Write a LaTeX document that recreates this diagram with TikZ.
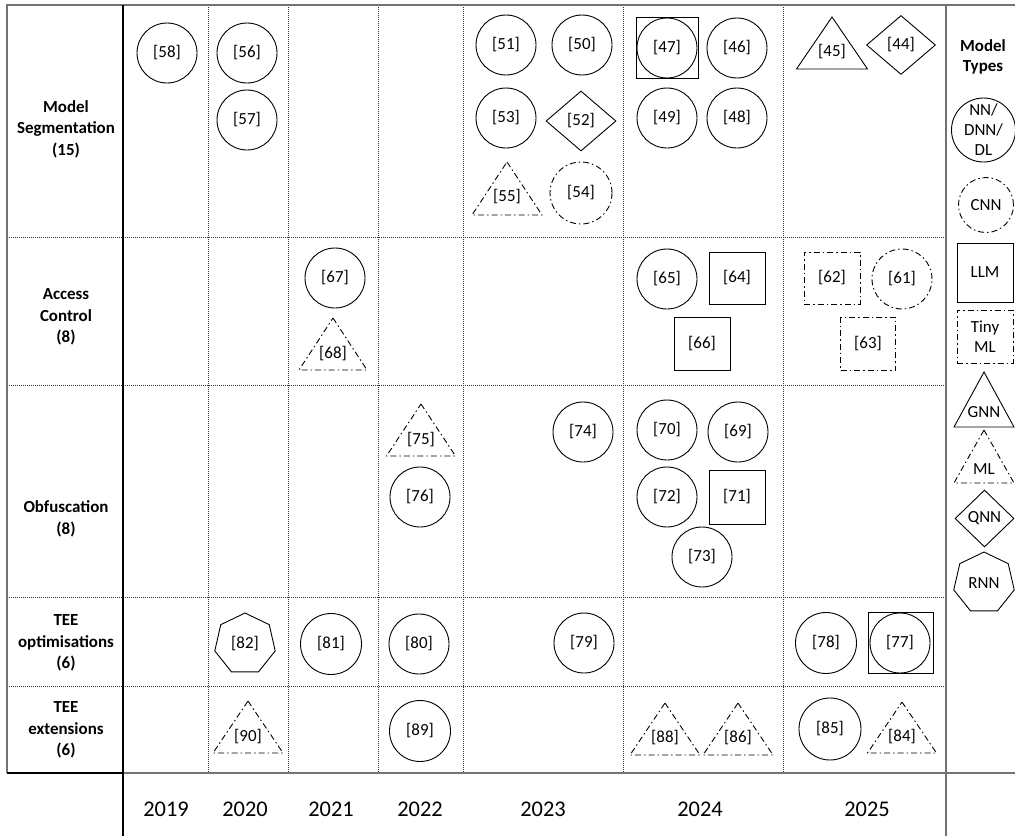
\documentclass[tikz,border=0pt]{standalone}
\usepackage{fontspec}
\setmainfont{Carlito}
\usetikzlibrary{shapes.geometric}
\definecolor{framegray}{gray}{0.45}
\definecolor{gridgray}{gray}{0.2}
\newcommand\trishape[8]{%
  \node[lbl] (#1) at (#2,#6) {#7};
  \draw[shp,#8] (#2,#3) -- ({#2+#5},#4) -- ({#2-#5},#4) -- cycle;}
\begin{document}
\begin{tikzpicture}[x=1bp, y=-1bp,
  shp/.style={line width=0.9bp, black},
  dd/.style={dash pattern=on 6bp off 3bp on 1.5bp off 3bp},
  lbl/.style={font=\fontsize{17}{20}\selectfont, inner sep=0pt},
  circ/.style={shp, draw, circle, minimum size=60bp, inner sep=0pt, font=\fontsize{17}{20}\selectfont},
  sq/.style={shp, draw, rectangle, minimum width=56bp, minimum height=53bp, inner sep=0pt, font=\fontsize{17}{20}\selectfont},
  dia/.style={shp, draw, diamond, minimum width=70bp, minimum height=60bp, inner sep=0pt, font=\fontsize{17}{20}\selectfont},
  hept/.style={shp, draw, regular polygon, regular polygon sides=7, minimum size=62bp, inner sep=0pt, font=\fontsize{17}{20}\selectfont},
  rowlbl/.style={font=\bfseries\fontsize{17}{21.5}\selectfont, align=center, inner sep=0pt},
  year/.style={font=\fontsize{22.5}{26}\selectfont, inner sep=0pt},
  dotline/.style={gridgray, line width=0.9bp, dash pattern=on 1bp off 1bp},
  frame/.style={framegray, line width=1.5bp}
]
\useasboundingbox (0,0) rectangle (1015,836);
% grid
\foreach \x in {208,288,378,463,623,783} \draw[dotline] (\x,5) -- (\x,773);
\foreach \y in {237,385,597,686} \draw[dotline] (7,\y) -- (946,\y);
\draw[frame] (7,773) -- (7,5) -- (1015,5);
\draw[frame] (946,5) -- (946,836);
\draw[frame] (123,773) -- (1015,773);
\draw[line width=1.2bp, black] (7,773) -- (123,773);
\draw[line width=1.2bp, black] (123,5) -- (123,836);
% row labels
\node[rowlbl] (lms) at (66,129) {Model\\Segmentation\\(15)};
\node[rowlbl] (lac) at (66,317) {Access\\Control\\(8)};
\node[rowlbl] (lob) at (66,519) {Obfuscation\\(8)};
\node[rowlbl] (lto) at (66,643) {TEE\\optimisations\\(6)};
\node[rowlbl] (lte) at (66,730) {TEE\\extensions\\(6)};
% years
\node[year] (y2019) at (166,809) {2019};
\node[year] (y2020) at (245,809) {2020};
\node[year] (y2021) at (331,809) {2021};
\node[year] (y2022) at (420,809) {2022};
\node[year] (y2023) at (543,809) {2023};
\node[year] (y2024) at (700,809) {2024};
\node[year] (y2025) at (867,809) {2025};
% legend
\node[rowlbl, font=\bfseries\fontsize{17}{19.5}\selectfont] (lmt) at (983,57) {Model\\Types};
\node[circ, minimum size=64bp] (gnn) at (983.5,130) {};
\node[lbl, align=center, font=\fontsize{17}{20}\selectfont] (gnnt) at (983.5,130) {NN/\\DNN/\\DL};
\node[circ, dd, minimum size=55bp] (gcnn) at (986,205) {CNN};
\node[sq, minimum height=59bp] (gllm) at (985,272.5) {LLM};
\node[sq, dd, align=center, font=\fontsize{17}{20}\selectfont] (gtiny) at (985,336.5) {Tiny\\ML};
\trishape{ggnn}{984}{372}{427}{30}{412}{GNN}{}
\trishape{gml}{984}{430}{483}{30}{469}{ML}{dd}
\node[dia, minimum width=59bp, minimum height=57bp] (gqnn) at (984.5,518.5) {QNN};
\node[hept] (grnn) at (984,583) {RNN};
% Model Segmentation
\node[circ] (r58) at (167,53) {[58]};
\node[circ] (r56) at (247,53) {[56]};
\node[circ] (r57) at (247,120) {[57]};
\node[circ] (r51) at (506,45) {[51]};
\node[circ] (r50) at (582,45) {[50]};
\node[circ] (r53) at (506,118) {[53]};
\node[dia] (r52) at (581,121) {[52]};
\trishape{r55}{507}{162}{215}{35}{197}{[55]}{dd}
\node[circ, dd, minimum size=62bp] (r54) at (581,193) {[54]};
\node[circ] (r47) at (667,48) {[47]};
\node[sq, minimum width=62bp, minimum height=61bp] (r47b) at (667,47.5) {};
\node[circ] (r46) at (737,48) {[46]};
\node[circ] (r49) at (667,118) {[49]};
\node[circ] (r48) at (737,118) {[48]};
\trishape{r45}{832}{17}{69}{35.5}{52}{[45]}{}
\node[dia, minimum width=69bp, minimum height=59bp] (r44) at (901,45) {[44]};
% Access Control
\node[circ] (r67) at (335,278) {[67]};
\trishape{r68}{333}{318}{370}{34}{354}{[68]}{dd}
\node[circ] (r65) at (667,279) {[65]};
\node[sq, minimum height=52bp] (r64) at (737,278) {[64]};
\node[sq] (r66) at (702,344) {[66]};
\node[sq, dd, minimum height=52bp] (r62) at (832,278) {[62]};
\node[circ, dd] (r61) at (902,279) {[61]};
\node[sq, dd, minimum width=55bp] (r63) at (868,344) {[63]};
% Obfuscation
\trishape{r75}{421}{404}{456}{34.5}{440}{[75]}{dd}
\node[circ] (r76) at (420,497) {[76]};
\node[circ] (r74) at (583,432) {[74]};
\node[circ] (r70) at (667,430) {[70]};
\node[circ] (r69) at (738,432) {[69]};
\node[circ] (r72) at (667,497) {[72]};
\node[sq, minimum height=54bp] (r71) at (737,497) {[71]};
\node[circ] (r73) at (702,557) {[73]};
% TEE optimisations
\node[hept] (r82) at (245,644) {[82]};
\node[circ, minimum size=61bp] (r81) at (331,644) {[81]};
\node[circ] (r80) at (419,644) {[80]};
\node[circ] (r79) at (584,643) {[79]};
\node[circ, minimum size=61bp] (r78) at (826,643) {[78]};
\node[circ] (r77) at (900,643) {[77]};
\node[sq, minimum width=65bp, minimum height=61bp] (r77b) at (900.5,642.5) {};
% TEE extensions
\trishape{r90}{248}{701}{753}{35}{737}{[90]}{dd}
\node[circ, minimum size=61bp] (r89) at (420,731) {[89]};
\trishape{r88}{665}{703}{755}{35}{738}{[88]}{dd}
\trishape{r86}{738}{703}{755}{35}{738}{[86]}{dd}
\node[circ, minimum size=62bp] (r85) at (830,729) {[85]};
\trishape{r84}{902}{702}{753}{34.5}{737}{[84]}{dd}
\end{tikzpicture}
\end{document}
